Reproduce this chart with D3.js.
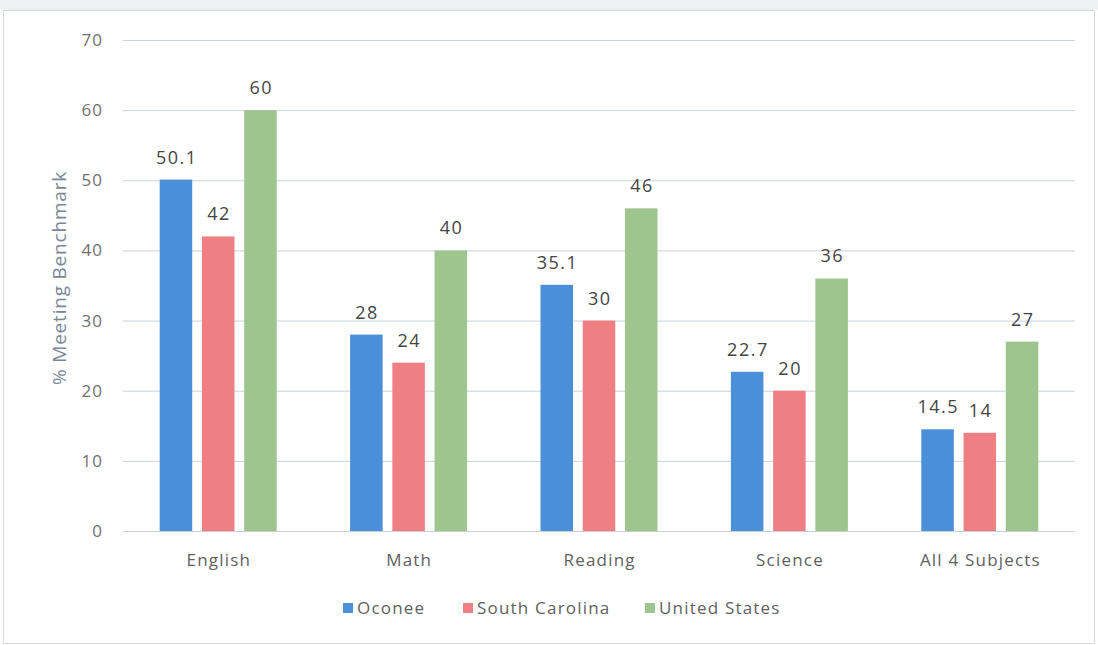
<!DOCTYPE html>
<html><head><meta charset="utf-8">
<script src="https://cdn.jsdelivr.net/npm/d3@7"></script>
<style>body{margin:0;background:#fff}svg{display:block}text{font-family:"Open Sans",sans-serif}</style>
</head><body><svg id="c" width="1098" height="645"></svg>
<script>
const categories = ["English","Math","Reading","Science","All 4 Subjects"];
const seriesNames = ["Oconee","South Carolina","United States"];
const oconee = [50.1,28,35.1,22.7,14.5];
const southCarolina = [42,24,30,20,14];
const unitedStates = [60,40,46,36,27];
const yTicks = [0,10,20,30,40,50,60,70];
const colors = ["#4b8fd9","#ef7f83","#9fc58e"];
const series = [oconee, southCarolina, unitedStates];

const svg = d3.select("#c");
svg.append("rect").attr("x",0).attr("y",0).attr("width",1098).attr("height",10).attr("fill","#eef0f2");
svg.append("rect").attr("x",3.5).attr("y",10.5).attr("width",1091).attr("height",633).attr("fill","none").attr("stroke","#d6d9dc");

const x0 = d3.scaleBand().domain(categories).range([123,1075]);
const y = d3.scaleLinear().domain([0,70]).range([531,40]);
const x1 = d3.scaleBand().domain(seriesNames).range([-58.5,58.5]).paddingInner(0.23);

const g = svg.append("g");
g.selectAll("line.grid").data(yTicks).join("line").attr("class","grid")
 .attr("x1",123).attr("x2",1075).attr("y1",d=>y(d)+0.5).attr("y2",d=>y(d)+0.5)
 .attr("stroke",d=>d===0?"#c9cfd6":"#c9d3de").attr("stroke-width",1);
g.selectAll("text.yt").data(yTicks).join("text").attr("class","yt")
 .attr("x",103).attr("y",d=>y(d)+6).attr("text-anchor","end")
 .attr("font-size",17).attr("letter-spacing",1).attr("fill","#707070").text(d=>d);

categories.forEach((c,i)=>{
  const cx = x0(c)+x0.bandwidth()/2;
  series.forEach((s,j)=>{
    const bx = cx + x1(seriesNames[j]);
    g.append("rect").attr("x",bx).attr("y",y(s[i])).attr("width",x1.bandwidth())
     .attr("height",y(0)-y(s[i])).attr("fill",colors[j]);
    g.append("text").attr("x",bx+x1.bandwidth()/2+0.75).attr("y",y(s[i])-16)
     .attr("text-anchor","middle").attr("font-size",18).attr("letter-spacing",1.5)
     .attr("fill","#454545").text(s[i]);
  });
  g.append("text").attr("x",cx+0.6).attr("y",566).attr("text-anchor","middle")
   .attr("font-size",17).attr("letter-spacing",1.2).attr("fill","#5f5f5f").text(c);
});

svg.append("text").attr("transform","translate(66,278) rotate(-90)")
 .attr("text-anchor","middle").attr("font-size",19).attr("letter-spacing",0.8)
 .attr("fill","#7a8798").text("% Meeting Benchmark");

// legend
const legendX = [343, 463, 645];
seriesNames.forEach((n,j)=>{
  svg.append("rect").attr("x",legendX[j]).attr("y",603).attr("width",10).attr("height",10).attr("fill",colors[j]);
  svg.append("text").attr("x",legendX[j]+14).attr("y",614).attr("font-size",17)
   .attr("letter-spacing",1.2).attr("fill","#5f5f5f").text(n);
});
</script></body></html>
